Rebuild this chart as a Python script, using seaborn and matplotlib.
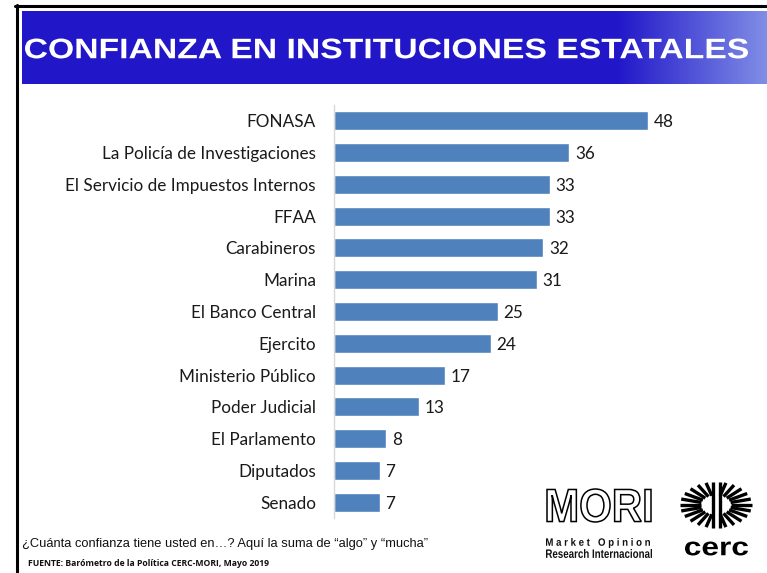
import numpy as np
import pandas as pd
import matplotlib
matplotlib.use("Agg")
import matplotlib.pyplot as plt
from matplotlib.patches import PathPatch
from matplotlib.textpath import TextPath
from matplotlib.font_manager import FontProperties
from matplotlib.transforms import Affine2D
import seaborn as sns

categories = ["FONASA", "La Policía de Investigaciones", "El Servicio de Impuestos Internos",
              "FFAA", "Carabineros", "Marina", "El Banco Central", "Ejercito",
              "Ministerio Público", "Poder Judicial", "El Parlamento", "Diputados", "Senado"]
values = [48, 36, 33, 33, 32, 31, 25, 24, 17, 13, 8, 7, 7]

title = "CONFIANZA EN INSTITUCIONES ESTATALES"
question = "¿Cuánta confianza tiene usted en…? Aquí la suma de “algo” y “mucha”"
source = "FUENTE: Barómetro de la Política CERC-MORI, Mayo 2019"

df = pd.DataFrame({"inst": categories, "val": values})

sns.set_style("white")
W, H = 767, 573
fig = plt.figure(figsize=(W / 100, H / 100), dpi=100)

def fx(x): return x / W
def fy(y): return 1 - y / H

# overlay axes in pixel coordinates (y down)
ov = fig.add_axes([0, 0, 1, 1], zorder=5)
ov.set_axis_off()
ov.set_xlim(0, W); ov.set_ylim(H, 0)
ov.patch.set_alpha(0)

def fit_text(s, x0, x1, ytop, ybot, family="Liberation Sans", weight="bold",
             fc="black", ec="none", lw=0):
    fp = FontProperties(family=family, weight=weight)
    tp = TextPath((0, 0), s, size=10, prop=fp)
    ext = tp.get_extents()
    sx = (x1 - x0) / ext.width
    sy = (ybot - ytop) / ext.height
    tr = Affine2D().translate(-ext.x0, -ext.y0).scale(sx, -sy).translate(x0, ybot)
    p = tr.transform_path(tp)
    ov.add_patch(PathPatch(p, fc=fc, ec=ec, lw=lw))

# frame lines
ov.plot([16.5, 16.5], [5, 573], color="black", lw=2.2)
ov.plot([15, 767], [6, 6], color="black", lw=2.2)

# title banner with gradient on the right
n = 400
grad = np.zeros((1, n, 3))
base = np.array([0x21, 0x17, 0xC9]) / 255
light = np.array([0xA8, 0xC0, 0xF2]) / 255
for i in range(n):
    t = i / (n - 1)
    s = max(0.0, (t - 0.80) / 0.20)
    grad[0, i] = base * (1 - 0.7 * s) + light * 0.7 * s
ov.imshow(grad, aspect="auto", extent=[22, 767, 84, 11], zorder=0)
ov.set_xlim(0, W); ov.set_ylim(H, 0)
fit_text(title, 25, 748, 38.5, 58.5, fc="white")

# bar chart
ax = fig.add_axes([fx(334), fy(518), fx(661) - fx(334), fy(105) - fy(518)])
sns.barplot(data=df, x="val", y="inst", color="#4F81BD", saturation=1, width=0.6, ax=ax)
ax.set_xlim(0, 50)
ax.set_xlabel(""); ax.set_ylabel("")
ax.set_xticks([])
for sp in ["top", "right", "bottom"]:
    ax.spines[sp].set_visible(False)
ax.spines["left"].set_color("#D9D9D9")
ax.spines["left"].set_linewidth(1)
ax.tick_params(axis="y", length=0, pad=13)
for lab in ax.get_yticklabels():
    lab.set_fontfamily("Lato")
    lab.set_fontsize(12.3)
    lab.set_color("#1a1a1a")
vlabels = ax.bar_label(ax.containers[0], labels=[str(v) for v in values], padding=4,
                       fontsize=12.3, family="Lato", color="#1a1a1a")
for tl in vlabels:
    tl.set_va("center_baseline")
ax.patch.set_alpha(0)

# footer texts
fig.text(fx(22), fy(544), question, fontsize=9.3, family="Liberation Sans",
         ha="left", va="center", color="#111111")
fig.text(fx(28), fy(563), source, fontsize=6.2, family="Open Sans", fontweight="bold",
         ha="left", va="center", color="#111111")

# MORI logo
fit_text("MORI", 547, 651, 489, 522, weight="bold", fc="white", ec="black", lw=1.1)
fit_text("M a r k e t   O p i n i o n", 546, 650, 538, 548, fc="#111111")
fit_text("Research Internacional", 546, 652, 549, 558, fc="#111111")

# cerc logo
cx, cy = 716, 505
rx, ry = 36, 23
for ang in [0, 15, 30, 45, 60, 74]:
    for sgn_x in (1, -1):
        for sgn_y in (1, -1):
            if ang == 0 and sgn_y == -1:
                continue
            a = np.deg2rad(ang)
            ux, uy = sgn_x * np.cos(a), sgn_y * np.sin(a)
            r0 = 0.42
            ov.plot([cx + rx * r0 * ux, cx + rx * ux], [cy - ry * r0 * uy, cy - ry * uy],
                    color="black", lw=2.4, solid_capstyle="butt")
for dx in (-3.5, 3.5):
    ov.plot([cx + dx, cx + dx], [cy - ry, cy + ry], color="black", lw=2.4,
            solid_capstyle="butt")
fit_text("cerc", 685, 748, 541.5, 555.5, fc="black")

fig.savefig("out.png", dpi=100)
